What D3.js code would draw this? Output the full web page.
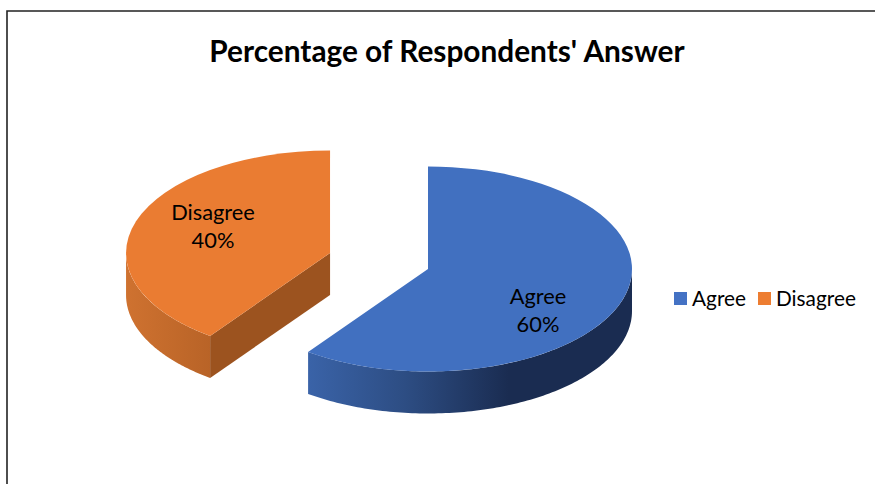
<!DOCTYPE html>
<html><head><meta charset="utf-8">
<script src="https://cdnjs.cloudflare.com/ajax/libs/d3/7.8.5/d3.min.js"></script>
<style>html,body{margin:0;padding:0;background:#fff}svg{display:block}text{font-family:Lato,"Open Sans",sans-serif;fill:#000}</style>
</head><body><svg id="c" width="875" height="484"></svg>
<script>
const categories = ["Agree", "Disagree"];
const seriesValues = [60, 40];
const exploded = [false, true];
const titleText = "Percentage of Respondents' Answer";
const colors = ["#4170c0", "#ea7c32"];
const legendColors = ["#4472c4", "#ed7d31"];

const W = 875, H = 484;
const cx = 428, cy = 269, rx = 204, tilt = 102.5 / 204, depth = 42, explode = 103;
const svg = d3.select("#c");

svg.append("path").attr("d", `M7,${H}V11H${W}`).attr("fill", "none").attr("stroke", "#222").attr("stroke-width", 1.6);

svg.append("text").attr("x", 447).attr("y", 62).attr("text-anchor", "middle")
  .attr("font-size", 29.8).attr("font-weight", 700).text(titleText);

const pie = d3.pie().sort(null).value(d => d);
const arcs = pie(seriesValues);
const arcGen = d3.arc().innerRadius(0).outerRadius(rx);
const defs = svg.append("defs");

// gradients are in page x; each slice's wall is drawn in page coordinates
function grad(id, x1, x2, stops) {
  const g = defs.append("linearGradient").attr("id", id).attr("gradientUnits", "userSpaceOnUse")
    .attr("x1", x1).attr("x2", x2).attr("y1", 0).attr("y2", 0);
  stops.forEach(s => g.append("stop").attr("offset", s[0]).attr("stop-color", s[1]));
}
grad("wall0", 308, 632, [[0, "#3a63a8"], [0.3, "#2d4d83"], [0.62, "#1a2c51"], [1, "#1a2c51"]]);
grad("wall1", 126, 212, [[0, "#cf7230"], [1, "#b86327"]]);
const sideFill = ["#1a2c51", "#9c531f"];

const px = a => rx * Math.sin(a);
const py = a => -rx * tilt * Math.cos(a);
const line = d3.line();

// draw in back-to-front order: Disagree, then Agree
[1, 0].forEach(i => {
  const d = arcs[i];
  const mid = (d.startAngle + d.endAngle) / 2;
  const ox = cx + (exploded[i] ? explode * Math.sin(mid) : 0);
  const oy = cy + (exploded[i] ? -explode * tilt * Math.cos(mid) : 0);
  const g = svg.append("g").attr("transform", `translate(${ox},${oy})`);

  // outer wall: only the part of the rim facing the viewer
  const a0 = Math.max(d.startAngle, Math.PI / 2);
  const a1 = Math.min(d.endAngle, Math.PI * 1.5);
  const steps = d3.range(0, 121).map(k => a0 + (a1 - a0) * k / 120);
  const top = steps.map(a => [ox + px(a), oy + py(a)]);
  const bot = steps.slice().reverse().map(a => [ox + px(a), oy + py(a) + depth]);
  svg.append("path").attr("d", line(top.concat(bot)) + "Z").attr("fill", `url(#wall${i})`);

  // cut face visible for the slice whose start edge faces the viewer
  const g2 = svg.append("g").attr("transform", `translate(${ox},${oy})`);
  if (exploded[i]) {
    const a = d.startAngle;
    g2.append("path").attr("d", line([[0, 0], [px(a), py(a)], [px(a), py(a) + depth], [0, depth]]) + "Z")
      .attr("fill", sideFill[i]);
  }

  // top surface
  g2.append("path").attr("d", arcGen(d)).attr("transform", `scale(1,${tilt})`).attr("fill", colors[i]);
});

// data labels
const labelPos = [[538, 297], [213, 213]];
arcs.forEach((d, i) => {
  const t = svg.append("text").attr("text-anchor", "middle").attr("font-size", 21.8);
  t.append("tspan").attr("x", labelPos[i][0]).attr("y", labelPos[i][1] + 7).text(categories[i]);
  t.append("tspan").attr("x", labelPos[i][0]).attr("y", labelPos[i][1] + 35).text(seriesValues[i] + "%");
});

// legend
const legendX = [674, 758];
categories.forEach((c, i) => {
  svg.append("rect").attr("x", legendX[i]).attr("y", 292).attr("width", 13).attr("height", 13).attr("fill", legendColors[i]);
  svg.append("text").attr("x", legendX[i] + 18).attr("y", 306).attr("font-size", 20.8).text(c);
});
</script></body></html>
